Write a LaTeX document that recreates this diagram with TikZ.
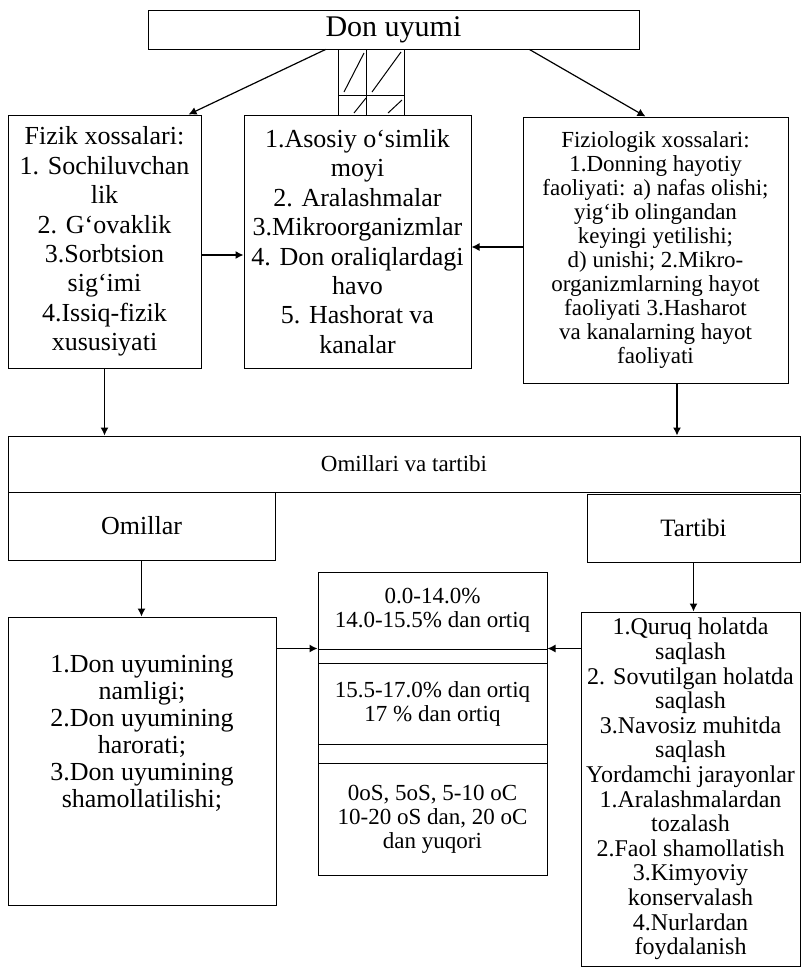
\documentclass[tikz,border=0pt]{standalone}
\usepackage{fontspec}
\setmainfont{Liberation Serif}
\usetikzlibrary{arrows.meta, calc}

\begin{document}
\begin{tikzpicture}[x = 1pt, y = -1pt,
    box/.style  = {shape = rectangle, draw = black, line width = 1pt, inner sep = 0pt, align = center},
    arr/.style  = {-{Latex[length = 8pt, width = 8pt]}, line width = 1.2pt},
    big/.style  = {font = \fontsize{26}{29.4}\selectfont},
    mid/.style  = {font = \fontsize{23}{24}\selectfont},
  ]
        \useasboundingbox (0, 0) rectangle (807, 970);

        \node[box, minimum width = 491pt, minimum height = 39pt,
              font = \fontsize{30}{32}\selectfont] at (393.5, 29.5) (don) {Don uyumi};

        % hatched column under the title
        \draw[line width = 1pt] (338, 49) rectangle (404, 115);
        \draw[line width = 1pt] (366, 49) -- (366, 115) (338, 95) -- (404, 95);
        \draw[line width = 1pt]
          (344, 92) -- (364, 53)
          (372, 92) -- (401, 52)
          (354, 113) -- (366, 98)
          (388, 113) -- (402, 100)
        ;

        \node[box, big, minimum width = 193pt, minimum height = 253pt] at (104.5, 241.5) (fizik)
          {Fizik xossalari:\\1. Sochiluvchan\\lik\\2. G‘ovaklik\\3.Sorbtsion\\sig‘imi\\4.Issiq-fizik\\xususiyati};
        \node[box, big, minimum width = 227pt, minimum height = 253pt] at (357.5, 241.5) (asosiy)
          {1.Asosiy o‘simlik\\moyi\\2. Aralashmalar\\3.Mikroorganizmlar\\4. Don oraliqlardagi\\havo\\5. Hashorat va\\kanalar};
        \node[box, mid, minimum width = 265pt, minimum height = 266pt] at (655.5, 250) (fizio)
          {Fiziologik xossalari:\\1.Donning hayotiy\\faoliyati: a) nafas olishi;\\yig‘ib olingandan\\keyingi yetilishi;\\d) unishi; 2.Mikro-\\organizmlarning hayot\\faoliyati 3.Hasharot\\va kanalarning hayot\\faoliyati};

        % ------------------------------------------------------------------------
        \node[box, mid, minimum width = 792pt, minimum height = 56pt] at (404, 464) (omt) {Omillari va tartibi};
        \node[box, big, minimum width = 267pt, minimum height = 68pt] at (141.5, 526) (omillar) {Omillar};
        \node[box, font = \fontsize{25}{26}\selectfont,
              minimum width = 213pt, minimum height = 68pt] at (693.5, 528) (tartib) {Tartibi};

        \node[box, minimum width = 268pt, minimum height = 288pt] at (142, 761) (donb) {};
        \node[align = center, inner sep = 0pt, font = \fontsize{26}{27}\selectfont] at (142, 733) (donbt)
          {1.Don uyumining\\namligi;\\2.Don uyumining\\harorati;\\3.Don uyumining\\shamollatilishi;};

        \node[box, mid, minimum width = 229pt, minimum height = 77pt] at (432.5, 610.5) (row1)
          {0.0-14.0\%\\14.0-15.5\% dan ortiq};
        \node[box, minimum width = 229pt, minimum height = 14pt] at (432.5, 656) (gap1) {};
        \node[box, mid, minimum width = 229pt, minimum height = 81pt] at (432.5, 703.5) (row2)
          {15.5-17.0\% dan ortiq\\17 \% dan ortiq};
        \node[box, minimum width = 229pt, minimum height = 19pt] at (432.5, 753.5) (gap2) {};
        \node[box, mid, minimum width = 229pt, minimum height = 112pt] at (432.5, 819) (row3)
          {0oS, 5oS, 5-10 oC\\10-20 oS dan, 20 oC\\dan yuqori};
        \draw[line width = 1.8pt] (row1.south west) -- (row1.south east);

        \node[box, font = \fontsize{24}{24.6}\selectfont,
              minimum width = 219pt, minimum height = 354pt] at (690.5, 789) (tartb)
          {1.Quruq holatda\\saqlash\\2. Sovutilgan holatda\\saqlash\\3.Navosiz muhitda\\saqlash\\Yordamchi jarayonlar\\1.Aralashmalardan\\tozalash\\2.Faol shamollatish\\3.Kimyoviy\\konservalash\\4.Nurlardan\\foydalanish};

        % connectors
        \coordinate (fa) at ($(fizik.east)+(0, 13.5)$);
        \coordinate (fb) at ($(fizio.west)+(0, -3)$);
        \coordinate (fc) at ($(fizio.south)+(21.5, 0)$);
        \coordinate (da) at ($(donb.north east)+(0, 32)$);
        \coordinate (ta) at ($(tartb.north west)+(0, 37)$);

        \path[arr]
          ($(don.south)+(-68, 0)$) edge ($(fizik.north)+(84, 0)$)
          ($(don.south)+(136, 0)$) edge ($(fizio.north)+(-10, 0)$)
          (fa) edge (fa -| asosiy.west)
          (fb) edge (fb -| asosiy.east)
          (fizik.south) edge (fizik.south |- omt.north)
          (fc) edge (fc |- omt.north)
          (omillar.south) edge (omillar.south |- donb.north)
          (tartib.south) edge (tartib.south |- tartb.north)
          (da) edge (da -| row1.west)
          (ta) edge (ta -| row1.east)
        ;
      \end{tikzpicture}
\end{document}
